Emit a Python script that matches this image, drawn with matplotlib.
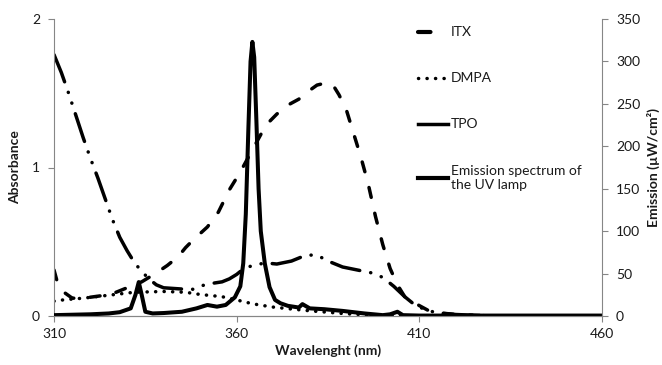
import matplotlib
matplotlib.use('Agg')
import matplotlib.pyplot as plt
from matplotlib.lines import Line2D

plt.rcParams['font.family'] = ['Lato', 'DejaVu Sans']

# ---------------- data ----------------
itx_x = [310, 311, 313, 315, 318, 321, 324, 327, 330, 334, 338, 341, 344, 346, 348,
         352, 355, 358, 361, 363, 365, 367, 369, 371, 374, 377, 380, 382, 384.5, 386.5,
         388, 390, 392, 394, 396, 398, 400, 402, 404, 406, 408, 410, 413, 416, 420, 430, 460]
itx_y = [0.31, 0.22, 0.155, 0.12, 0.12, 0.13, 0.14, 0.16, 0.19, 0.23, 0.29, 0.34, 0.40, 0.46, 0.51,
         0.60, 0.70, 0.85, 0.97, 1.06, 1.15, 1.24, 1.31, 1.36, 1.42, 1.46, 1.52, 1.555, 1.57, 1.55,
         1.49, 1.39, 1.23, 1.07, 0.89, 0.67, 0.48, 0.32, 0.21, 0.13, 0.10, 0.07, 0.03, 0.02, 0.01, 0.0, 0.0]

dmpa_x = [310, 313, 318, 325, 332, 340, 346, 350, 356, 360, 363, 366, 370, 375, 380, 385,
          390, 395, 400, 410, 460]
dmpa_y = [0.10, 0.11, 0.12, 0.14, 0.16, 0.165, 0.16, 0.145, 0.13, 0.108, 0.09, 0.075, 0.06, 0.047,
          0.035, 0.025, 0.015, 0.008, 0.004, 0.0, 0.0]

tpo_x = [310, 312, 314, 316, 318, 320, 322, 324, 326, 328, 330, 332, 334, 336, 338, 340, 343,
         346, 348, 350, 352, 356, 358, 360, 362, 365, 368, 371, 375, 379, 382, 385, 389, 393,
         397, 400, 403, 406, 409, 412, 415, 420, 430, 460]
tpo_y = [1.76, 1.64, 1.50, 1.35, 1.20, 1.06, 0.93, 0.79, 0.65, 0.53, 0.44, 0.36, 0.30, 0.25, 0.21,
         0.19, 0.185, 0.18, 0.18, 0.20, 0.215, 0.23, 0.25, 0.28, 0.32, 0.345, 0.357, 0.35, 0.37,
         0.41, 0.41, 0.37, 0.33, 0.31, 0.29, 0.26, 0.20, 0.13, 0.07, 0.04, 0.02, 0.01, 0.0, 0.0]

em_x = [310, 315, 320, 325, 328, 331, 332.3, 333.2, 334, 335, 337, 340, 345, 349, 352, 354.6,
        357, 359.5, 361, 361.8, 362.5, 363.2, 363.8, 364.3, 364.8, 365.4, 366, 366.6, 367.7,
        369, 370.5, 372, 374, 377, 378, 380, 384, 389, 395, 400, 402, 404, 405.5, 410, 420,
        440, 460]
em_y = [1, 1.5, 2, 3, 4.5, 9, 25, 40, 25, 5, 3, 3.5, 5, 9, 13, 11,
        13, 22, 35, 62, 120, 220, 300, 323, 305, 230, 150, 100, 62,
        34, 19, 15, 12, 10, 14, 9, 8, 6, 3, 1, 2, 5, 1, 0.5, 0.5,
        0.5, 0.5]

x_ticks = [310, 360, 410, 460]
abs_ticks = [0, 1, 2]
em_ticks = [0, 50, 100, 150, 200, 250, 300, 350]
labels = ['ITX', 'DMPA', 'TPO', 'Emission spectrum of\nthe UV lamp']

# ---------------- styles ----------------
GRAY = '#868686'
TXT = '#1a1a1a'
LW = 2.5
FS = 10
itx_style = dict(color='black', lw=LW, linestyle=(0, (2.9, 4.7)), dash_capstyle='round')
dmpa_style = dict(color='black', lw=LW, linestyle=(0, (0.05, 2.4)), dash_capstyle='round')
tpo_style = dict(color='black', lw=LW, linestyle=(0, (8.4, 3.2, 0.05, 3.2, 0.05, 3.2)),
                 dash_capstyle='round')
em_style = dict(color='black', lw=2.9, solid_capstyle='round', solid_joinstyle='round')

fig = plt.figure(figsize=(6.62, 3.65), dpi=100)
ax = fig.add_axes([54 / 662, 1 - 316 / 365, 548 / 662, 297 / 365])
ax2 = ax.twinx()

ax.plot(tpo_x, tpo_y, **tpo_style)
ax.plot(dmpa_x, dmpa_y, **dmpa_style)
ax.plot(itx_x, itx_y, **itx_style)
ax2.plot(em_x, em_y, **em_style)

ax.set_xlim(310, 460)
ax.set_ylim(0, 2)
ax2.set_ylim(0, 350)
ax.set_xticks(x_ticks)
ax.set_yticks(abs_ticks)
ax2.set_yticks(em_ticks)

for a in (ax, ax2):
    for s in a.spines.values():
        s.set_color(GRAY)
        s.set_linewidth(0.8)
    a.spines['top'].set_visible(False)
    a.tick_params(colors=GRAY, labelcolor=TXT, labelsize=FS, length=4, width=0.8, direction='out')
ax2.spines['left'].set_visible(False)
ax.spines['right'].set_visible(False)
ax.tick_params(axis='x', pad=5)
ax.tick_params(axis='y', pad=6)
ax2.tick_params(axis='y', pad=6)

ax.set_xlabel('Wavelenght (nm)', fontsize=FS, fontweight='bold', color=TXT, labelpad=3)
ax.set_ylabel('Absorbance', fontsize=FS, fontweight='bold', color=TXT, labelpad=8)
ax2.set_ylabel('Emission (µW/cm²)', fontsize=FS, fontweight='bold', color=TXT, labelpad=5)

handles = [Line2D([], [], color='black', lw=3, linestyle=(0, (3.0, 8)), dash_capstyle='round'),
           Line2D([], [], **dmpa_style),
           Line2D([], [], color='black', lw=LW),
           Line2D([], [], color='black', lw=3)]
ax2.legend(handles, labels, loc='upper left', bbox_to_anchor=(0.664, 0.975), frameon=False,
           borderpad=0, borderaxespad=0, handlelength=2.2, handletextpad=0.15,
           labelspacing=2.45, fontsize=FS, labelcolor=TXT)

fig.savefig('out.png', dpi=100)
